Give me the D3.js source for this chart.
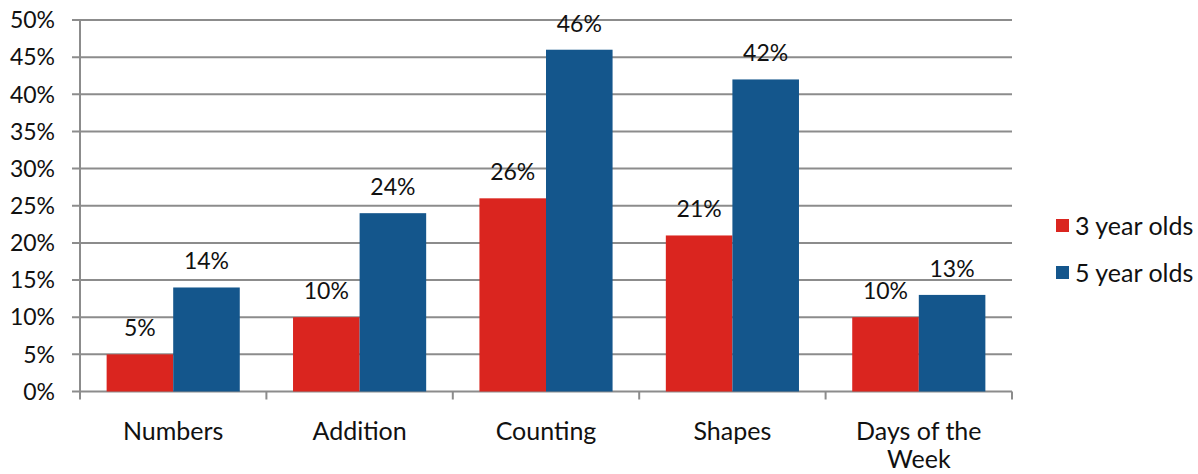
<!DOCTYPE html>
<html>
<head>
<meta charset="utf-8">
<script src="https://cdn.jsdelivr.net/npm/d3@7"></script>
<style>
  html, body { margin: 0; padding: 0; background: #fff; }
  svg text { font-family: Lato, "Open Sans", sans-serif; fill: #111; }
</style>
</head>
<body>
<svg id="chart" width="1198" height="474"></svg>
<script>
// Categories, series and tick values
const categories = ["Numbers", "Addition", "Counting", "Shapes", "Days of the Week"];
const seriesNames = ["3 year olds", "5 year olds"];
const threeYearOlds = [5, 10, 26, 21, 10];
const fiveYearOlds = [14, 24, 46, 42, 13];
const yTicks = [0, 5, 10, 15, 20, 25, 30, 35, 40, 45, 50];
const colors = ["#DA251F", "#14568C"];

const svg = d3.select("#chart");
const plot = { left: 80, right: 1012, top: 20, bottom: 391.5 };
const numSize = 23;   // percentages
const wordSize = 25;  // category and legend labels

const x0 = d3.scaleBand().domain(categories).range([plot.left, plot.right]).paddingInner(0).paddingOuter(0);
const x1 = d3.scaleBand().domain(seriesNames).range([0, x0.bandwidth()]).paddingInner(0).paddingOuter(0.4);
const y = d3.scaleLinear().domain([0, 50]).range([plot.bottom, plot.top]);
const grid = "#8c8c8c";

// horizontal gridlines with short ticks left of the axis
svg.append("g").selectAll("line").data(yTicks).join("line")
  .attr("x1", plot.left - 8).attr("x2", plot.right)
  .attr("y1", d => y(d)).attr("y2", d => y(d))
  .attr("stroke", grid).attr("stroke-width", 2);

// y tick labels
svg.append("g").selectAll("text").data(yTicks).join("text")
  .attr("x", 55).attr("y", d => y(d)).attr("dy", "0.36em")
  .attr("text-anchor", "end").style("font-size", numSize + "px")
  .text(d => d + "%");

// vertical axis line
svg.append("line").attr("x1", plot.left).attr("x2", plot.left)
  .attr("y1", plot.top).attr("y2", plot.bottom + 8)
  .attr("stroke", grid).attr("stroke-width", 2);

// category tick marks below the baseline
const boundaries = categories.map(c => x0(c)).concat([plot.right]);
svg.append("g").selectAll("line").data(boundaries.slice(1)).join("line")
  .attr("x1", d => d).attr("x2", d => d)
  .attr("y1", plot.bottom).attr("y2", plot.bottom + 8)
  .attr("stroke", grid).attr("stroke-width", 2);

// bars and value labels
const rows = categories.map((c, i) => ({ cat: c, vals: [threeYearOlds[i], fiveYearOlds[i]] }));
const groups = svg.append("g").selectAll("g").data(rows).join("g")
  .attr("transform", d => `translate(${x0(d.cat)},0)`);

groups.selectAll("rect").data(d => d.vals.map((v, j) => ({ v, s: seriesNames[j], j }))).join("rect")
  .attr("x", d => x1(d.s)).attr("width", x1.bandwidth())
  .attr("y", d => y(d.v)).attr("height", d => y(0) - y(d.v))
  .attr("fill", d => colors[d.j]);

groups.selectAll("text").data(d => d.vals.map((v, j) => ({ v, s: seriesNames[j], j }))).join("text")
  .attr("x", d => x1(d.s) + x1.bandwidth() / 2).attr("y", d => y(d.v) - 18)
  .attr("text-anchor", "middle").style("font-size", numSize + "px")
  .text(d => d.v + "%");

// category labels (wrapped where needed)
const catLines = { "Days of the Week": ["Days of the", "Week"] };
svg.append("g").selectAll("text").data(categories).join("text")
  .attr("x", d => x0(d) + x0.bandwidth() / 2).attr("y", 440)
  .attr("text-anchor", "middle").style("font-size", wordSize + "px")
  .each(function (d) {
    const lines = catLines[d] || [d];
    d3.select(this).selectAll("tspan").data(lines).join("tspan")
      .attr("x", x0(d) + x0.bandwidth() / 2).attr("dy", (l, i) => i === 0 ? 0 : 28)
      .text(l => l);
  });

// legend
const legend = svg.append("g").selectAll("g").data(seriesNames).join("g")
  .attr("transform", (d, i) => `translate(1056,${219 + i * 47})`);
legend.append("rect").attr("width", 13).attr("height", 13).attr("fill", (d, i) => colors[i]);
legend.append("text").attr("x", 19).attr("y", 6.5).attr("dy", "0.36em")
  .style("font-size", wordSize + "px").text(d => d);
</script>
</body>
</html>
